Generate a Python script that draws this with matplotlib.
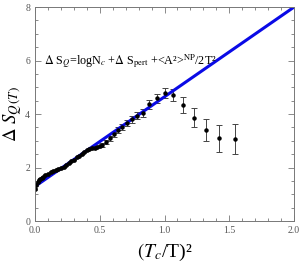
import matplotlib.pyplot as plt

# dense points near the origin (error bars too small to see)
x_dense = [0.0, 0.01, 0.02, 0.03, 0.04, 0.05, 0.06, 0.08, 0.10, 0.12, 0.14, 0.16,
           0.18, 0.20, 0.22, 0.24, 0.26, 0.28, 0.30, 0.32, 0.34, 0.36, 0.38, 0.40,
           0.42, 0.44, 0.46, 0.48, 0.50]
y_dense = [1.20, 1.35, 1.45, 1.52, 1.57, 1.62, 1.66, 1.72, 1.78, 1.83, 1.87, 1.91,
           1.94, 1.98, 2.03, 2.09, 2.16, 2.23, 2.30, 2.38, 2.45, 2.52, 2.58, 2.64,
           2.69, 2.72, 2.75, 2.77, 2.80]
err_dense = [0.03] * len(x_dense)

# points with visible error bars
x_err = [0.52, 0.55, 0.58, 0.61, 0.64, 0.67, 0.71, 0.75, 0.79, 0.83, 0.88, 0.94,
         1.00, 1.067, 1.139, 1.229, 1.321, 1.422, 1.542]
y_err = [2.85, 2.96, 3.10, 3.24, 3.40, 3.52, 3.66, 3.80, 3.94, 4.05, 4.36, 4.60,
         4.80, 4.72, 4.35, 3.86, 3.39, 3.10, 3.08]
err = [0.08, 0.09, 0.10, 0.10, 0.11, 0.12, 0.12, 0.13, 0.14, 0.15, 0.16, 0.17,
       0.19, 0.22, 0.29, 0.36, 0.41, 0.50, 0.56]

# fit line
fit_x = [0.0, 2.0]
fit_y = [1.3, 8.0]

plt.rcParams['font.family'] = ['Liberation Serif', 'DejaVu Serif']
plt.rcParams['mathtext.fontset'] = 'stix'

fig = plt.figure(figsize=(3.0, 2.73), dpi=100)
ax = fig.add_axes([0.117, 0.19, 0.863, 0.784])

ax.errorbar(x_dense, y_dense, yerr=err_dense, fmt='o', color='black', ms=2.4,
            ecolor='#444444', elinewidth=0.6, capsize=1.5, capthick=0.6)
ax.errorbar(x_err, y_err, yerr=err, fmt='o', color='black', ms=2.2,
            ecolor='#444444', elinewidth=0.7, capsize=2, capthick=0.7)
ax.plot(fit_x, fit_y, color='#0a0ae6', lw=2.2)

ax.set_xlim(0, 2)
ax.set_ylim(0, 8)
ax.set_xticks([0, 0.5, 1.0, 1.5, 2.0])
ax.set_xticklabels(['0.0', '0.5', '1.0', '1.5', '2.0'])
ax.set_yticks([0, 2, 4, 6, 8])
ax.set_xticks([i * 0.1 for i in range(21)], minor=True)
ax.set_yticks([i * 0.5 for i in range(17)], minor=True)
ax.tick_params(which='both', direction='in', top=True, right=True,
               colors='#777777', labelcolor='#555555', labelsize=7, width=0.6)
ax.tick_params(which='major', length=4)
ax.tick_params(which='minor', length=2)
for s in ax.spines.values():
    s.set_color('#777777')
    s.set_linewidth(0.7)

ax.text(0.07, 5.98, r'$\Delta$ S$_Q$=logN$_c$ +$\Delta$ S$_{\rm pert}$ +<A²>$^{\rm NP}$/2T²',
        fontsize=8.7, va='center', ha='left')

ax.set_xlabel(r'$(T_c$/T)²', fontsize=14, labelpad=5)
ax.set_ylabel(r'$\Delta\ S_{Q\,(T)}$', fontsize=13.5, labelpad=1)

fig.savefig('out.png', dpi=100)
